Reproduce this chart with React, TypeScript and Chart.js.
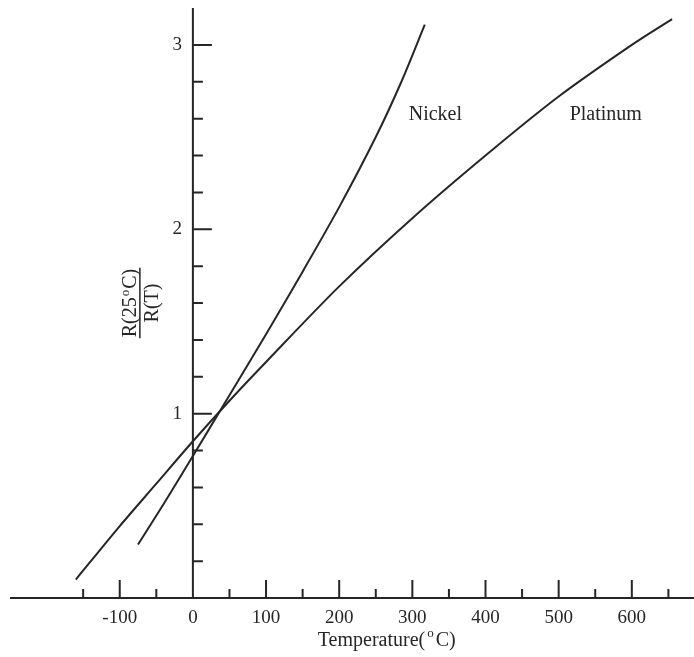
import React, { useEffect, useRef } from "react";
import { Chart, registerables } from "chart.js";

Chart.register(...registerables);

// ---- data ----
const nickelTemp = [-75, -40, 0, 50, 100, 150, 200, 250, 285, 317];
const nickelRatio = [0.29, 0.51, 0.77, 1.1, 1.43, 1.77, 2.12, 2.5, 2.8, 3.11];

const platinumTemp = [-160, -100, -50, 0, 50, 100, 200, 300, 400, 500, 600, 655];
const platinumRatio = [0.1, 0.39, 0.62, 0.85, 1.07, 1.28, 1.69, 2.06, 2.4, 2.72, 3.0, 3.14];

const xMajorTicks = [-100, 0, 100, 200, 300, 400, 500, 600];
const xMinorTicks = [-150, -50, 50, 150, 250, 350, 450, 550, 650];
const yMajorTicks = [1, 2, 3];
const yMinorTicks = [0.2, 0.4, 0.6, 0.8, 1.2, 1.4, 1.6, 1.8, 2.2, 2.4, 2.6, 2.8];

const curveLabels = ["Nickel", "Platinum"];
const curveLabelTemp = [295, 515];
const curveLabelRatio = [2.62, 2.62];

const INK = "#262626";
const FONT = '"Liberation Serif", "Times New Roman", serif';

const axesPlugin = {
  id: "crossAxes",
  beforeDraw(chart: any) {
    const ctx = chart.ctx;
    ctx.save();
    ctx.fillStyle = "#ffffff";
    ctx.fillRect(0, 0, chart.width, chart.height);
    ctx.restore();
  },
  afterDatasetsDraw(chart: any) {
    const ctx: CanvasRenderingContext2D = chart.ctx;
    const xs = chart.scales.x;
    const ys = chart.scales.y;
    const x0 = xs.getPixelForValue(0);
    const y0 = ys.getPixelForValue(0);
    ctx.save();
    ctx.strokeStyle = INK;
    ctx.fillStyle = INK;
    ctx.lineWidth = 2;
    ctx.lineCap = "butt";

    // axes
    ctx.beginPath();
    ctx.moveTo(xs.left, y0);
    ctx.lineTo(xs.right, y0);
    ctx.moveTo(x0, y0);
    ctx.lineTo(x0, ys.top);
    ctx.stroke();

    // x ticks (pointing up)
    ctx.beginPath();
    xMajorTicks.forEach((t) => {
      if (t === 0) return;
      const px = xs.getPixelForValue(t);
      ctx.moveTo(px, y0);
      ctx.lineTo(px, y0 - 18);
    });
    xMinorTicks.forEach((t) => {
      const px = xs.getPixelForValue(t);
      ctx.moveTo(px, y0);
      ctx.lineTo(px, y0 - 9);
    });
    // y ticks (pointing right)
    yMajorTicks.forEach((t) => {
      const py = ys.getPixelForValue(t);
      ctx.moveTo(x0, py);
      ctx.lineTo(x0 + 19, py);
    });
    yMinorTicks.forEach((t) => {
      const py = ys.getPixelForValue(t);
      ctx.moveTo(x0, py);
      ctx.lineTo(x0 + 10, py);
    });
    ctx.stroke();

    // tick labels
    ctx.font = `19px ${FONT}`;
    ctx.textAlign = "center";
    ctx.textBaseline = "middle";
    xMajorTicks.forEach((t) => {
      ctx.fillText(String(t), xs.getPixelForValue(t), y0 + 20);
    });
    ctx.textAlign = "right";
    yMajorTicks.forEach((t) => {
      ctx.fillText(String(t), x0 - 11, ys.getPixelForValue(t));
    });

    // curve labels
    ctx.font = `20px ${FONT}`;
    ctx.textAlign = "left";
    curveLabels.forEach((s, i) => {
      ctx.fillText(s, xs.getPixelForValue(curveLabelTemp[i]), ys.getPixelForValue(curveLabelRatio[i]));
    });

    // x title: Temperature(°C) with superscript o
    const big = `20px ${FONT}`;
    const small = `13px ${FONT}`;
    const partA = "Temperature(";
    const partB = "o";
    const partC = "C)";
    ctx.font = big;
    const wA = ctx.measureText(partA).width;
    const wC = ctx.measureText(partC).width;
    ctx.font = small;
    const wB = ctx.measureText(partB).width;
    const gap = 2;
    const total = wA + gap + wB + gap + wC;
    const cx = xs.getPixelForValue(265);
    let sx = cx - total / 2;
    const ty = y0 + 43;
    ctx.textAlign = "left";
    ctx.textBaseline = "middle";
    ctx.font = big;
    ctx.fillText(partA, sx, ty);
    sx += wA + gap;
    ctx.font = small;
    ctx.fillText(partB, sx, ty - 7);
    sx += wB + gap;
    ctx.font = big;
    ctx.fillText(partC, sx, ty);

    // y title: fraction R(25°C) / R(T), rotated
    const fx = x0 - 53;
    const fy = ys.getPixelForValue(1.6);
    ctx.translate(fx, fy);
    ctx.rotate(-Math.PI / 2);
    const nA = "R(25";
    const nB = "o";
    const nC = "C)";
    ctx.font = big;
    const nwA = ctx.measureText(nA).width;
    const nwC = ctx.measureText(nC).width;
    ctx.font = small;
    const nwB = ctx.measureText(nB).width;
    const ntot = nwA + 1 + nwB + 1 + nwC;
    let nx = -ntot / 2;
    ctx.textBaseline = "alphabetic";
    ctx.font = big;
    ctx.fillText(nA, nx, -4);
    nx += nwA + 1;
    ctx.font = small;
    ctx.fillText(nB, nx, -11);
    nx += nwB + 1;
    ctx.font = big;
    ctx.fillText(nC, nx, -4);
    ctx.lineWidth = 1.5;
    ctx.beginPath();
    ctx.moveTo(-ntot / 2 - 1, 0);
    ctx.lineTo(ntot / 2 + 1, 0);
    ctx.stroke();
    ctx.textAlign = "center";
    ctx.textBaseline = "top";
    ctx.font = big;
    ctx.fillText("R(T)", 0, 3);

    ctx.restore();
  },
};

export default function App() {
  const canvasRef = useRef<HTMLCanvasElement | null>(null);

  useEffect(() => {
    const canvas = canvasRef.current;
    if (!canvas) return;
    const toPoints = (xs: number[], ys: number[]) => xs.map((x, i) => ({ x, y: ys[i] }));
    const chart = new Chart(canvas, {
      type: "line",
      data: {
        datasets: [
          {
            label: "Nickel",
            data: toPoints(nickelTemp, nickelRatio),
            borderColor: INK,
            borderWidth: 2,
            pointRadius: 0,
            tension: 0.3,
            fill: false,
          },
          {
            label: "Platinum",
            data: toPoints(platinumTemp, platinumRatio),
            borderColor: INK,
            borderWidth: 2,
            pointRadius: 0,
            tension: 0.3,
            fill: false,
          },
        ],
      },
      options: {
        responsive: false,
        animation: false,
        events: [],
        layout: { padding: { left: 10, right: 0, top: 8, bottom: 59 } },
        plugins: { legend: { display: false }, tooltip: { enabled: false } },
        scales: {
          x: { type: "linear", min: -250, max: 685, display: false },
          y: { type: "linear", min: 0, max: 3.2, display: false },
        },
      },
      plugins: [axesPlugin],
    } as any);
    return () => chart.destroy();
  }, []);

  return (
    <div style={{ position: "absolute", left: 0, top: 0, width: 694, height: 657, background: "#fff" }}>
      <canvas ref={canvasRef} width={694} height={657} style={{ display: "block", width: 694, height: 657 }} />
    </div>
  );
}
